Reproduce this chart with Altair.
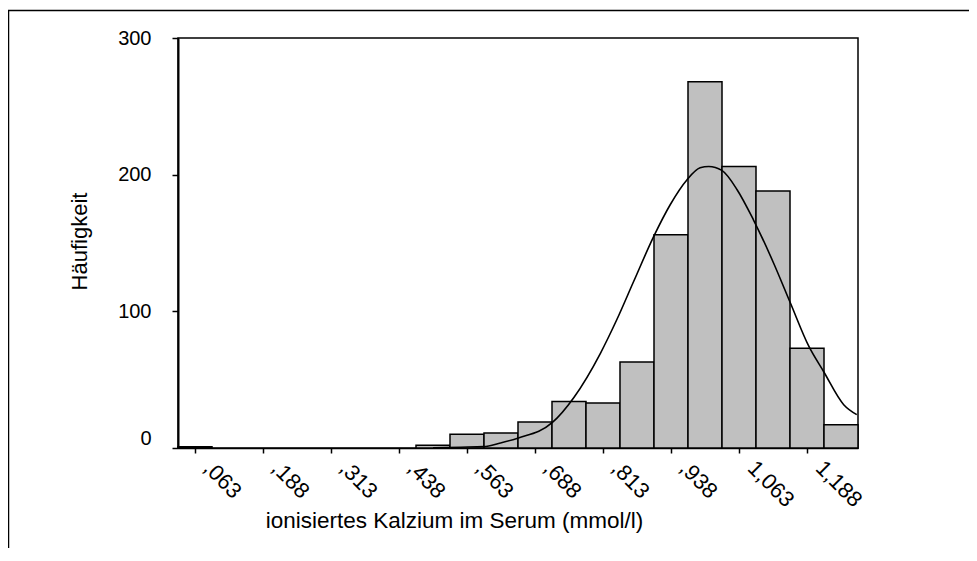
import altair as alt
import pandas as pd

# Histogram bins (bin centres, width 0.0625) and frequencies
bin_centers = [0.0625, 0.5, 0.5625, 0.625, 0.6875, 0.75, 0.8125, 0.875,
               0.9375, 1.0, 1.0625, 1.125, 1.1875, 1.25]
counts = [1, 2, 10, 11, 19, 34, 33, 63, 156, 268, 206, 188, 73, 17]
bin_width = 0.0625

# Normal curve, points
curve_x = [0.50, 0.551, 0.593, 0.624, 0.657, 0.719, 0.759, 0.808, 0.838,
           0.869, 0.906, 0.936, 0.967, 0.991, 1.007, 1.031, 1.059, 1.089,
           1.126, 1.157, 1.191, 1.218, 1.255, 1.279]
curve_y = [0.2, 0.6, 1.0, 3.7, 7.3, 18.5, 37.0, 69.5, 94.0,
           122.0, 155.0, 178.0, 196.3, 205.0, 206.0, 203.1, 189.0, 167.0,
           135.4, 106.1, 74.3, 56.0, 31.7, 24.4]

tick_values = [0.0625, 0.125, 0.1875, 0.25, 0.3125, 0.375, 0.4375, 0.5,
               0.5625, 0.625, 0.6875, 0.75, 0.8125, 0.875, 0.9375, 1.0,
               1.0625, 1.125, 1.1875, 1.25]
tick_labels = [",063", "", ",188", "", ",313", "", ",438", "", ",563", "",
               ",688", "", ",813", "", ",938", "", "1,063", "", "1,188", ""]
y_ticks = [0, 100, 200, 300]

x_title = "ionisiertes Kalzium im Serum (mmol/l)"
y_title = "Häufigkeit"

FONT = "Liberation Sans"
W, H = 680, 410

bars = pd.DataFrame({
    "center": bin_centers,
    "count": counts,
})
bars["start"] = bars["center"] - bin_width / 2
bars["end"] = bars["center"] + bin_width / 2

curve = pd.DataFrame({"x": curve_x, "y": curve_y})

label_expr = ("[" + ",".join("'" + l + "'" for l in tick_labels) +
              "][round(datum.value / 0.0625) - 1]")

xscale = alt.Scale(domain=[0.03125, 1.28125], nice=False, zero=False)
yscale = alt.Scale(domain=[0, 300], nice=False)

xaxis = alt.Axis(
    values=tick_values, labelExpr=label_expr, labelAngle=45,
    labelAlign="left", labelBaseline="top", labelPadding=4, labelOffset=19,
    labelFont=FONT, labelFontSize=22, labelColor="black",
    tickSize=5, tickColor="black", tickWidth=1.5,
    domainColor="black", domainWidth=1.5, grid=False,
    title=x_title, titleFont=FONT, titleFontSize=22.5, titleFontWeight="normal",
    titleColor="black", titleX=276, titleY=72, titleAlign="center",
    titleBaseline="middle", labelOverlap=False,
)
yaxis = alt.Axis(
    values=y_ticks, format="d", labelFont=FONT, labelFontSize=20,
    labelColor="black", labelPadding=21,
    labelBaseline={"condition": {"test": "datum.value == 0", "value": "bottom"},
                   "value": "middle"},
    tickSize=6, tickColor="black", tickWidth=1.5,
    domainColor="black", domainWidth=2, grid=False,
    title=y_title, titleFont=FONT, titleFontSize=22, titleFontWeight="normal",
    titleColor="black", titleAngle=-90, titleX=-99, titleY=203,
    titleAlign="center", titleBaseline="middle",
)

bar_layer = alt.Chart(bars).mark_rect(
    fill="#c0c0c0", stroke="black", strokeWidth=1.5
).encode(
    x=alt.X("start:Q", scale=xscale, axis=xaxis),
    x2="end:Q",
    y=alt.Y("count:Q", scale=yscale, axis=yaxis),
    y2=alt.datum(0),
)

curve_layer = alt.Chart(curve).mark_line(
    color="black", strokeWidth=1.6, interpolate="monotone"
).encode(
    x=alt.X("x:Q", scale=xscale),
    y=alt.Y("y:Q", scale=yscale),
)

one = pd.DataFrame({"a": [0]})
frame_top = alt.Chart(one).mark_rule(color="black", strokeWidth=1.5).encode(
    x=alt.value(-170), x2=alt.value(W + 111), y=alt.value(-27.5)
)
frame_left = alt.Chart(one).mark_rule(color="black", strokeWidth=1.5).encode(
    x=alt.value(-169.5), y=alt.value(-27.5), y2=alt.value(H + 100)
)

chart = alt.layer(bar_layer, curve_layer, frame_top, frame_left).properties(
    width=W, height=H,
    autosize=alt.AutoSizeParams(type="none"),
    padding={"left": 170, "top": 30, "right": 111, "bottom": 100},
    background="white",
).configure_view(stroke="black", strokeWidth=1.5)

chart.save("out.html", embed_options={"renderer": "svg", "actions": False})
